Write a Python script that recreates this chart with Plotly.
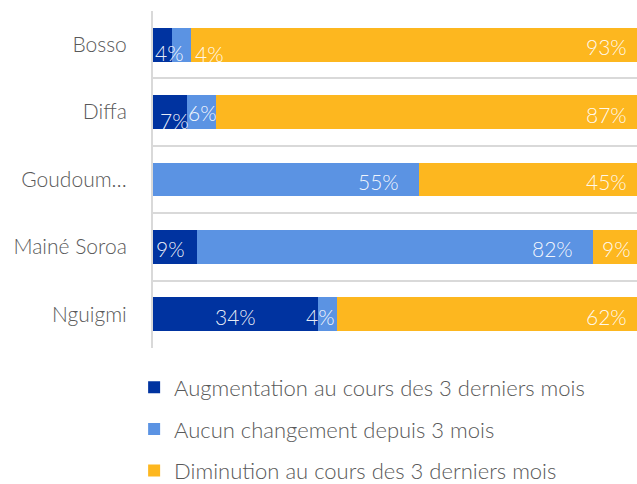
import plotly.graph_objects as go

categories = ["Bosso", "Diffa", "Goudoum…", "Mainé Soroa", "Nguigmi"]
series_names = [
    "Augmentation au cours des 3 derniers mois",
    "Aucun changement depuis 3 mois",
    "Diminution au cours des 3 derniers mois",
]
augmentation = [4, 7, 0, 9, 34]
aucun = [4, 6, 55, 82, 4]
diminution = [93, 87, 45, 9, 62]
colors = ["#0033A0", "#5B93E3", "#FDB71F"]

FONT = "Lato, 'Open Sans', sans-serif"
series = [augmentation, aucun, diminution]

# label placement style: (anchor mode, xshift, yshift)
default_style = ("end", -8, -2)
overrides = {
    (0, 0): ("start", 0, -8),
    (0, 1): ("after", 2, -9),
    (1, 0): ("end", 4, -8),
    (1, 1): ("end", 3, 0),
    (2, 1): ("end", -18, -2),
    (3, 0): ("start", 1, -2),
    (3, 1): ("end", -18, -2),
    (3, 2): ("end", -4, -2),
    (4, 0): ("middle", 0, -2),
    (4, 1): ("end", 0, -2),
}

fig = go.Figure()
for i, (name, vals) in enumerate(zip(series_names, series)):
    fig.add_trace(go.Bar(
        y=categories, x=vals, name=name, orientation="h",
        marker=dict(color=colors[i], line=dict(width=0)),
        legendgroup=f"g{i}",
        hoverinfo="skip",
    ))

annotations = []
for ci, cat in enumerate(categories):
    total = sum(s[ci] for s in series)
    cum = 0.0
    for si, s in enumerate(series):
        v = s[ci]
        start = cum / total * 100
        cum += v
        end = cum / total * 100
        if v <= 0:
            continue
        mode, xs, ys = overrides.get((ci, si), default_style)
        if mode == "end":
            x, anchor = end, "right"
        elif mode == "start":
            x, anchor = start, "left"
        elif mode == "after":
            x, anchor = end, "left"
        else:
            x, anchor = (start + end) / 2, "center"
        annotations.append(dict(
            x=x, y=cat, xref="x", yref="y", text=f"{v}%", showarrow=False,
            xanchor=anchor, yanchor="middle", xshift=xs, yshift=ys,
            font=dict(color="rgba(255,255,255,0.93)", size=21, family=FONT, weight=300),
        ))

fig.update_layout(
    barmode="stack", barnorm="percent", bargap=0.5,
    width=637, height=484,
    margin=dict(l=153, r=0, t=11, b=136, autoexpand=False),
    plot_bgcolor="white", paper_bgcolor="white",
    font=dict(family=FONT, color="#595959", size=21, weight=300),
    legend=dict(
        orientation="v", x=-0.039, xanchor="left", y=-0.055, yanchor="top",
        traceorder="grouped", tracegroupgap=10,
        font=dict(size=22, color="#595959", family=FONT, weight=300),
        itemwidth=30,
    ),
    showlegend=True,
    annotations=annotations,
)
fig.update_xaxes(range=[0, 100], showgrid=False, showticklabels=False, zeroline=False,
                 showline=False, fixedrange=True)
fig.update_yaxes(
    categoryorder="array", categoryarray=categories, autorange="reversed",
    tickson="boundaries", showgrid=True, gridcolor="#D9D9D9", gridwidth=2,
    showline=True, linecolor="#D9D9D9", linewidth=2,
    ticks="", ticklabelstandoff=20, fixedrange=True,
    tickfont=dict(size=21, color="#595959", family=FONT, weight=300),
)

fig.write_html("out.html", config={"displayModeBar": False},
               post_script="document.body.style.margin='0';")
